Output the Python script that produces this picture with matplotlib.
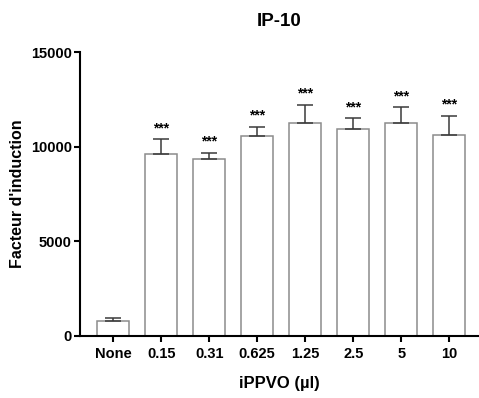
import matplotlib
matplotlib.use("Agg")
import matplotlib.pyplot as plt
import numpy as np

plt.rcParams["font.family"] = ["Liberation Sans", "DejaVu Sans"]
plt.rcParams["font.weight"] = "bold"

# data
doses = ["None", "0.15", "0.31", "0.625", "1.25", "2.5", "5", "10"]
means = [800, 9600, 9370, 10550, 11250, 10950, 11230, 10600]
errors = [150, 800, 310, 500, 970, 550, 850, 1050]
signif = ["", "***", "***", "***", "***", "***", "***", "***"]

fig = plt.figure(figsize=(4.79, 3.98), dpi=100)
ax = fig.add_axes([0.167, 0.156, 0.833, 0.713])

x = np.arange(len(doses))
ax.bar(x, means, width=0.67, color="white", edgecolor="#8c8c8c", linewidth=1.1, zorder=2)
ax.errorbar(x, means, yerr=[np.zeros(len(errors)), errors], fmt="none",
            ecolor="#3a3a3a", elinewidth=1.1, capsize=5.5, capthick=1.1, zorder=3)

for xi, m, e, s in zip(x, means, errors, signif):
    if s:
        ax.annotate(s, (xi, m + e), xytext=(0, 3), textcoords="offset points",
                    ha="center", va="bottom", fontsize=10, fontweight="bold")

ax.set_xlim(-0.69, 7.62)
ax.set_ylim(0, 15000)
ax.set_yticks([0, 5000, 10000, 15000])
ax.set_xticks(x)
ax.set_xticklabels(doses)

for side in ["top", "right"]:
    ax.spines[side].set_visible(False)
for side in ["left", "bottom"]:
    ax.spines[side].set_linewidth(1.5)
ax.tick_params(axis="both", direction="out", length=4, width=1.5, labelsize=10.5, pad=2)
ax.tick_params(axis="x", pad=4)
for lbl in ax.get_xticklabels() + ax.get_yticklabels():
    lbl.set_fontweight("bold")

ax.set_ylabel("Facteur d'induction", fontsize=11.5, fontweight="bold", labelpad=4)
ax.set_xlabel("iPPVO (µl)", fontsize=12, fontweight="bold", labelpad=11)
ax.set_title("IP-10", fontsize=13.5, fontweight="bold", pad=19)

fig.savefig("out.png", dpi=100)
